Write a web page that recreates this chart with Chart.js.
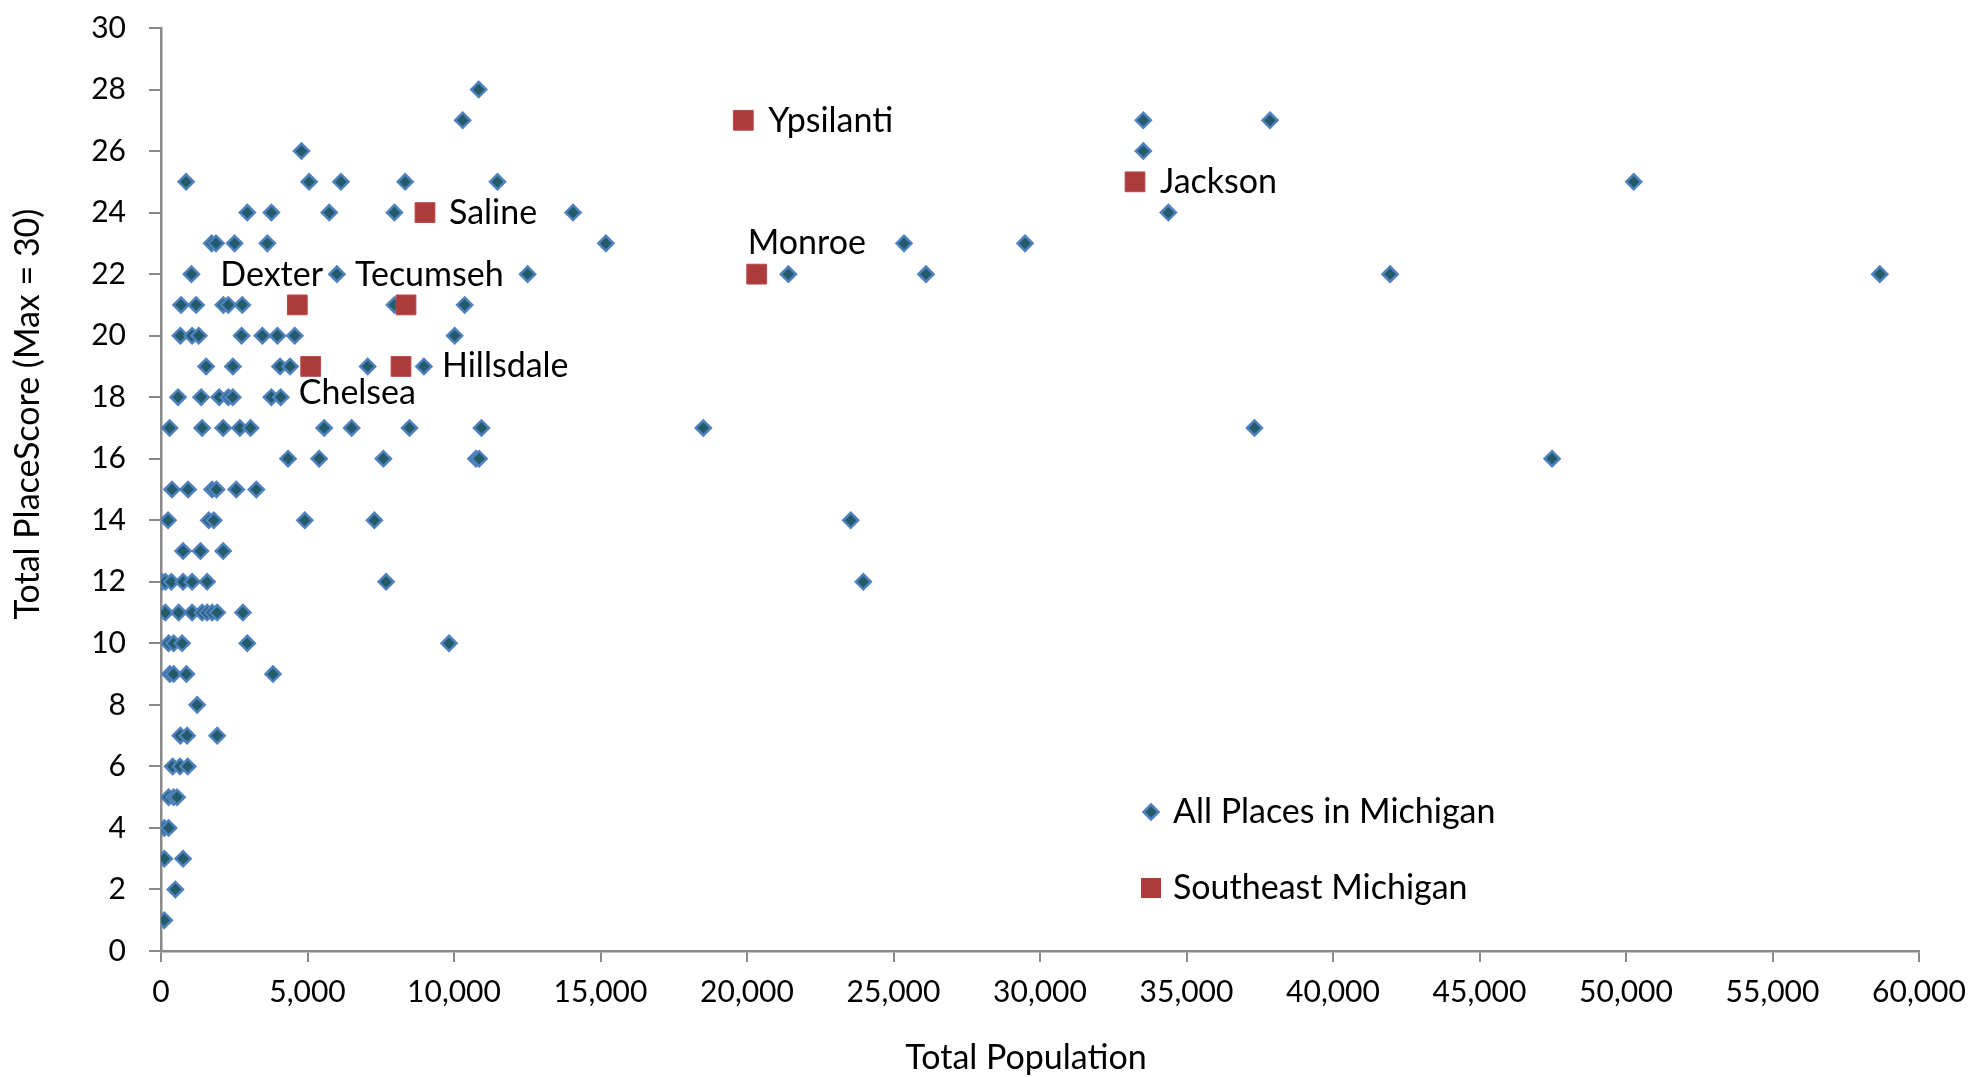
<!DOCTYPE html>
<html>
<head>
<meta charset="utf-8">
<script src="https://cdn.jsdelivr.net/npm/chart.js@4/dist/chart.umd.min.js"></script>
<style>
html,body{margin:0;padding:0;background:#fff;}
#wrap{width:1969px;height:1077px;}
</style>
</head>
<body>
<div id="wrap"><canvas id="c" width="1969" height="1077"></canvas></div>
<script>
// ---- Data ----
const xTickStep = 5000;
const yTickStep = 2;
const xTitle = "Total Population";
const yTitle = "Total PlaceScore (Max = 30)";
const legendLabels = ["All Places in Michigan", "Southeast Michigan"];

const placesPopulation = [
  10843,
  10296, 33526, 37850,
  4795, 33526,
  856, 5055, 6141, 8333, 11484, 50263,
  2945, 3767, 5741, 7967, 14063, 34380,
  1730, 1877, 2511, 3630, 15183, 25359, 29489,
  1038, 6004, 12512, 21412, 26109, 41949, 58662,
  685, 1199, 2127, 2297, 2774, 7967, 10365,
  661, 1061, 1289, 2750, 3459, 3973, 4565, 10022,
  1541, 2454, 4063, 4405, 7055, 8973,
  582, 1370, 1986, 2300, 2450, 3767, 4086,
  295, 1404, 2123, 2692, 3058, 5570, 6507, 8481, 10937, 18509, 37321,
  4336, 5398, 7590, 10750, 10857, 47478,
  377, 925, 1747, 1894, 2569, 3254,
  240, 1630, 1802, 4908, 7282, 23540,
  753, 1346, 2123,
  34, 150, 353, 753, 1061, 1575, 7682, 23970,
  147, 603, 1061, 1404, 1575, 1747, 1918, 2795,
  260, 432, 719, 2945, 9830,
  300, 430, 867, 3822,
  1233,
  661, 890, 1918,
  398, 650, 912,
  260, 432, 548,
  113, 260,
  113, 753,
  490,
  113
];
const placesScore = [
  28,
  27, 27, 27,
  26, 26,
  25, 25, 25, 25, 25, 25,
  24, 24, 24, 24, 24, 24,
  23, 23, 23, 23, 23, 23, 23,
  22, 22, 22, 22, 22, 22, 22,
  21, 21, 21, 21, 21, 21, 21,
  20, 20, 20, 20, 20, 20, 20, 20,
  19, 19, 19, 19, 19, 19,
  18, 18, 18, 18, 18, 18, 18,
  17, 17, 17, 17, 17, 17, 17, 17, 17, 17, 17,
  16, 16, 16, 16, 16, 16,
  15, 15, 15, 15, 15, 15,
  14, 14, 14, 14, 14, 14,
  13, 13, 13,
  12, 12, 12, 12, 12, 12, 12, 12,
  11, 11, 11, 11, 11, 11, 11, 11,
  10, 10, 10, 10, 10,
  9, 9, 9, 9,
  8,
  7, 7, 7,
  6, 6, 6,
  5, 5, 5,
  4, 4,
  3, 3,
  2,
  1
];

const seNames = ["Ypsilanti", "Saline", "Jackson", "Monroe", "Dexter", "Tecumseh", "Chelsea", "Hillsdale"];
const sePopulation = [19874, 9010, 33243, 20331, 4652, 8362, 5109, 8191];
const seScore = [27, 24, 25, 22, 21, 21, 19, 19];

// ---- Build ----
const FONT = "Lato, 'Open Sans', sans-serif";
const BLUE_FILL = '#235B6B';
const BLUE_EDGE = '#4F81BD';
const RED = '#AE3B3C';
const AXIS = '#8A8A8A';

const bluePts = placesPopulation.map((x, i) => ({x: x, y: placesScore[i]}));
const redPts = sePopulation.map((x, i) => ({x: x, y: seScore[i]}));

// label offsets relative to point (pixels): [dx, dy]
const labelOffsets = {
  "Ypsilanti": [25, 1], "Saline": [24, 0], "Jackson": [25, 0], "Monroe": [-9, -31],
  "Dexter": [-77, -30], "Tecumseh": [-51, -30], "Chelsea": [-12, 27], "Hillsdale": [41, 0]
};

const labelPlugin = {
  id: 'seLabels',
  afterDatasetsDraw(chart) {
    const ctx = chart.ctx;
    const meta = chart.getDatasetMeta(0);
    ctx.save();
    ctx.font = "34px " + FONT;
    ctx.fillStyle = '#000';
    ctx.textAlign = 'left';
    ctx.textBaseline = 'middle';
    meta.data.forEach((el, i) => {
      const name = seNames[i];
      const off = labelOffsets[name] || [20, 0];
      ctx.fillText(name, el.x + off[0], el.y + off[1]);
    });
    ctx.restore();
  }
};

const titlesPlugin = {
  id: 'axisTitles',
  afterDraw(chart) {
    const ctx = chart.ctx;
    ctx.save();
    ctx.font = "34px " + FONT;
    ctx.fillStyle = '#000';
    ctx.textAlign = 'center';
    ctx.textBaseline = 'middle';
    ctx.fillText(xTitle, 1026, 1058);
    ctx.translate(28, 414);
    ctx.rotate(-Math.PI / 2);
    ctx.fillText(yTitle, 0, 0);
    ctx.restore();
  }
};

const legendPlugin = {
  id: 'customLegend',
  afterDraw(chart) {
    const ctx = chart.ctx;
    ctx.save();
    const dx = 1151, dy = 812, r = 7.5;
    ctx.beginPath();
    ctx.moveTo(dx, dy - r); ctx.lineTo(dx + r, dy); ctx.lineTo(dx, dy + r); ctx.lineTo(dx - r, dy); ctx.closePath();
    ctx.fillStyle = BLUE_FILL; ctx.fill();
    ctx.lineWidth = 2.5; ctx.strokeStyle = BLUE_EDGE; ctx.stroke();
    ctx.fillStyle = RED;
    ctx.fillRect(1151 - 10, 888 - 10, 20, 20);
    ctx.font = "34px " + FONT;
    ctx.fillStyle = '#000';
    ctx.textAlign = 'left';
    ctx.textBaseline = 'middle';
    ctx.fillText(legendLabels[0], 1173, 812);
    ctx.fillText(legendLabels[1], 1173, 888);
    ctx.restore();
  }
};

new Chart(document.getElementById('c'), {
  type: 'scatter',
  data: {
    datasets: [
      {
        label: legendLabels[1],
        data: redPts,
        pointStyle: 'rect',
        pointRadius: 14,
        pointHoverRadius: 14,
        backgroundColor: RED,
        borderColor: '#B84A4B',
        borderWidth: 1,
        order: 0
      },
      {
        label: legendLabels[0],
        data: bluePts,
        pointStyle: 'rectRot',
        pointRadius: 7.5,
        pointHoverRadius: 7.5,
        backgroundColor: BLUE_FILL,
        borderColor: BLUE_EDGE,
        borderWidth: 2.5,
        order: 1
      }
    ]
  },
  options: {
    responsive: false,
    animation: false,
    devicePixelRatio: 1,
    layout: { padding: { left: 0, top: 28, right: 50, bottom: 0 } },
    plugins: { legend: { display: false }, tooltip: { enabled: false } },
    scales: {
      x: {
        type: 'linear', min: 0, max: 60000,
        afterFit(scale) { scale.height = 126; scale.paddingLeft = 0; scale.paddingRight = 0; },
        border: { display: true, color: AXIS, width: 2.5 },
        grid: { drawOnChartArea: false, drawTicks: true, tickLength: 11, color: AXIS, lineWidth: 2 },
        ticks: {
          stepSize: xTickStep, padding: 12, color: '#000',
          font: { family: FONT, size: 30 },
          maxRotation: 0, autoSkip: false,
          callback: (v) => Number(v).toLocaleString('en-US')
        },
        title: { display: false }
      },
      y: {
        type: 'linear', min: 0, max: 30,
        afterFit(scale) { scale.width = 161; scale.paddingTop = 0; scale.paddingBottom = 0; },
        border: { display: true, color: AXIS, width: 2.5 },
        grid: { drawOnChartArea: false, drawTicks: true, tickLength: 12, color: AXIS, lineWidth: 2 },
        ticks: {
          stepSize: yTickStep, padding: 23, color: '#000',
          font: { family: FONT, size: 30 }, autoSkip: false
        },
        title: { display: false }
      }
    }
  },
  plugins: [labelPlugin, titlesPlugin, legendPlugin]
});
</script>
</body>
</html>
